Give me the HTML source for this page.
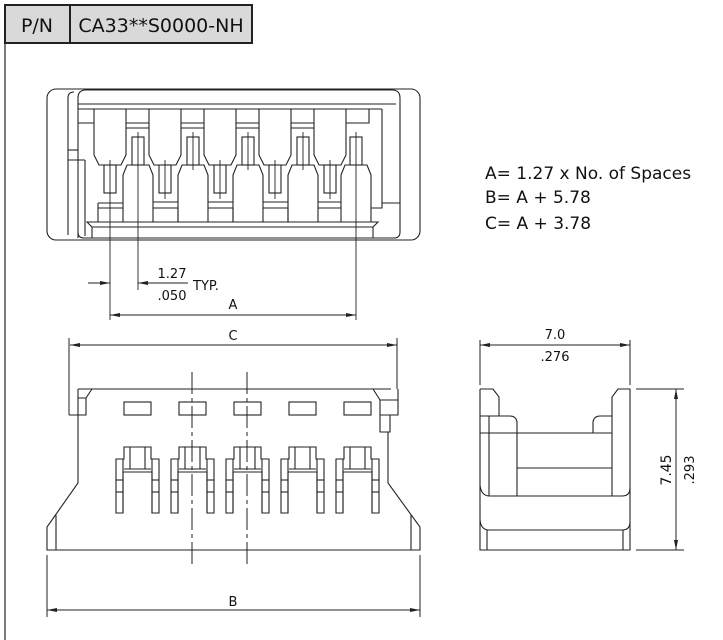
<!DOCTYPE html>
<html><head><meta charset="utf-8"><style>
html,body{margin:0;padding:0;background:#fff;}
svg{display:block;}
text{font-family:"DejaVu Sans","Liberation Sans",sans-serif;fill:#111;}
</style></head><body>
<svg width="723" height="640" viewBox="0 0 723 640" xmlns="http://www.w3.org/2000/svg">
<defs>
<marker id="ar" viewBox="0 0 10 6" refX="10" refY="3" markerWidth="10" markerHeight="6" orient="auto-start-reverse" markerUnits="userSpaceOnUse"><path d="M0,1 L10,3 L0,5 z" fill="#222"/></marker>
</defs>
<rect x="5" y="5" width="247" height="38" fill="#d9d9d9" stroke="#222" stroke-width="2"/>
<line x1="70" y1="5" x2="70" y2="43" stroke="#222" stroke-width="2"/>
<text x="37" y="32" font-size="19" text-anchor="middle">P/N</text>
<text x="161" y="32" font-size="19" text-anchor="middle">CA33**S0000-NH</text>
<line x1="5" y1="43" x2="5" y2="640" stroke="#222" stroke-width="1.2"/>

<g fill="none" stroke="#222" stroke-width="1.1">
<rect x="47" y="89" width="373" height="151" rx="9"/>
<path d="M68,235 L68,98 Q68,92 74,92"/>
<path d="M78,238 L78,98 Q78,90 86,90 L392,90 Q400,90 400,98 L400,232 Q400,238 394,238 L84,238 Q78,238 78,232"/>
<line x1="78" y1="104" x2="396" y2="104"/>
<line x1="78" y1="109" x2="382" y2="109"/>
<line x1="382" y1="109" x2="382" y2="203"/>
<line x1="382" y1="203" x2="400" y2="203"/>
<line x1="68" y1="150" x2="78" y2="150"/>
<line x1="68" y1="160" x2="85" y2="160"/><line x1="85" y1="160" x2="85" y2="236"/>
<path d="M87,222 L378,222 L373,227 L92,227 Z"/>
<line x1="92" y1="227" x2="92" y2="238"/><line x1="373" y1="227" x2="373" y2="238"/>
<g id="uc">
<path d="M94,109 L94,155 L99,165 L121,165 L126,155 L126,109"/>
<rect x="104" y="165" width="12" height="28"/>
</g>
<use href="#uc" x="55"/><use href="#uc" x="110"/><use href="#uc" x="165"/><use href="#uc" x="220"/>
<path d="M78,123 L94,123 M126,123 L149,123 M181,123 L204,123 M236,123 L259,123 M291,123 L314,123 M346,123 L369,123 L369,109"/>
<path d="M126,128 L149,128 M181,128 L204,128 M236,128 L259,128 M291,128 L314,128"/>
<g id="lc">
<rect x="132" y="137" width="12" height="28"/>
<path d="M123,222 L123,175 L127,165 L149,165 L153,175 L153,222"/>
</g>
<use href="#lc" x="55"/><use href="#lc" x="110"/><use href="#lc" x="165"/><use href="#lc" x="218"/>
<path d="M98,203 L123,203 M98,203 L98,222 M153,202 L178,202 M153,208 L178,208 M208,202 L233,202 M208,208 L233,208 M263,202 L288,202 M263,208 L288,208 M318,202 L341,202 M318,208 L341,208 M371,208 L382,208 L382,203 M98,208 L123,208"/>
<path d="M178,208 L178,222 M233,208 L233,222 M288,208 L288,222"/>
<g stroke-width="0.9">
<line x1="110" y1="160" x2="110" y2="320"/>
<line x1="165" y1="160" x2="165" y2="199"/><line x1="220" y1="160" x2="220" y2="199"/><line x1="275" y1="160" x2="275" y2="199"/><line x1="330" y1="160" x2="330" y2="199"/>
<line x1="138" y1="132" x2="138" y2="290"/>
<line x1="193" y1="132" x2="193" y2="170"/><line x1="248" y1="132" x2="248" y2="170"/><line x1="303" y1="132" x2="303" y2="170"/>
<line x1="356" y1="132" x2="356" y2="320"/>
</g>
</g>
<g stroke="#222" stroke-width="1" fill="none">
<line x1="88" y1="283" x2="110" y2="283" marker-end="url(#ar)"/>
<line x1="138" y1="283" x2="188" y2="283" marker-start="url(#ar)"/>
<line x1="110" y1="315" x2="356" y2="315" marker-start="url(#ar)" marker-end="url(#ar)"/>
<line x1="70" y1="345" x2="397" y2="345" marker-start="url(#ar)" marker-end="url(#ar)"/>
<line x1="69" y1="338" x2="69" y2="415"/><line x1="397" y1="338" x2="397" y2="389"/>
</g>
<text x="172" y="278" font-size="13" text-anchor="middle">1.27</text>
<text x="172" y="300" font-size="13" text-anchor="middle">.050</text>
<text x="193" y="290" font-size="13">TYP.</text>
<text x="233" y="309" font-size="13" text-anchor="middle">A</text>
<text x="233" y="340" font-size="13" text-anchor="middle">C</text>

<text x="485" y="179" font-size="17">A= 1.27 x No. of Spaces</text>
<text x="485" y="203" font-size="17">B= A + 5.78</text>
<text x="485" y="229" font-size="17">C= A + 3.78</text>

<g fill="none" stroke="#222" stroke-width="1.1">
<path d="M78,389 L391,389 M92,389 L86,398 L86,415 L78,415 M78,398 L86,398"/>
<path d="M69,415 L78,415 M78,389 L78,483 L47,527 L47,550 L420,550 L420,527 L388,483 L388,432 M398,389 L398,400"/>
<path d="M373,389 L380,400 L398,400 L398,415 L380,415 L380,400 M380,415 L380,432 L390,432 L390,415"/>
<path d="M56,515 L56,550 M411,515 L411,550"/>
<rect x="124" y="402" width="27" height="13"/><rect x="179" y="402" width="27" height="13"/><rect x="234" y="402" width="27" height="13"/><rect x="289" y="402" width="27" height="13"/><rect x="344" y="402" width="27" height="13"/>
<g id="pk">
<path d="M116,513 L116,459 L124,459 L124,447 L151,447 L151,459 L159,459 L159,513 L152,513 L152,472 L123,472 L123,513 Z"/>
<line x1="123" y1="459" x2="123" y2="513"/><line x1="152" y1="459" x2="152" y2="513"/>
<line x1="124" y1="469" x2="151" y2="469"/>
<line x1="130" y1="447" x2="130" y2="469"/><line x1="145" y1="447" x2="145" y2="469"/>
<line x1="116" y1="480" x2="123" y2="480"/><line x1="116" y1="492" x2="123" y2="492"/>
<line x1="152" y1="480" x2="159" y2="480"/><line x1="152" y1="492" x2="159" y2="492"/>
</g>
<use href="#pk" x="55"/><use href="#pk" x="110"/><use href="#pk" x="165"/><use href="#pk" x="220"/>
<g stroke-dasharray="22,4,4,4" stroke-width="1">
<line x1="192" y1="372" x2="192" y2="567"/><line x1="247" y1="372" x2="247" y2="567"/>
</g>
</g>
<g stroke="#222" stroke-width="1" fill="none">
<line x1="47" y1="555" x2="47" y2="617"/><line x1="420" y1="555" x2="420" y2="617"/>
<line x1="47" y1="610" x2="420" y2="610" marker-start="url(#ar)" marker-end="url(#ar)"/>
</g>
<text x="233" y="606" font-size="13" text-anchor="middle">B</text>

<g fill="none" stroke="#222" stroke-width="1.1">
<path d="M480,389 L480,550 L630,550 L630,389 L618,389 L612,397 L612,496"/>
<path d="M480,389 L493,389 L499,397 L499,416"/>
<path d="M480,416 L510,416 Q516,416 517,422 L517,496"/>
<path d="M593,433 L593,422 Q594,416 600,416 L612,416"/>
<line x1="489" y1="416" x2="489" y2="496"/>
<line x1="480" y1="433" x2="612" y2="433"/>
<line x1="517" y1="468" x2="612" y2="468"/>
<path d="M480,485 Q481,496 490,496 L622,496 Q630,496 630,488"/>
<path d="M480,520 Q481,530 489,530 L622,530 Q630,530 630,522"/>
<line x1="487" y1="530" x2="487" y2="550"/><line x1="623" y1="530" x2="623" y2="550"/>
</g>
<g stroke="#222" stroke-width="1" fill="none">
<line x1="480" y1="340" x2="480" y2="385"/><line x1="630" y1="340" x2="630" y2="385"/>
<line x1="480" y1="345" x2="630" y2="345" marker-start="url(#ar)" marker-end="url(#ar)"/>
<line x1="636" y1="389" x2="684" y2="389"/><line x1="636" y1="550" x2="684" y2="550"/>
<line x1="676" y1="389" x2="676" y2="550" marker-start="url(#ar)" marker-end="url(#ar)"/>
</g>
<text x="555" y="339" font-size="13" text-anchor="middle">7.0</text>
<text x="555" y="361" font-size="13" text-anchor="middle">.276</text>
<text transform="translate(671,470) rotate(-90)" font-size="14" text-anchor="middle">7.45</text>
<text transform="translate(694,470) rotate(-90)" font-size="13" text-anchor="middle">.293</text>
</svg>
</body></html>
